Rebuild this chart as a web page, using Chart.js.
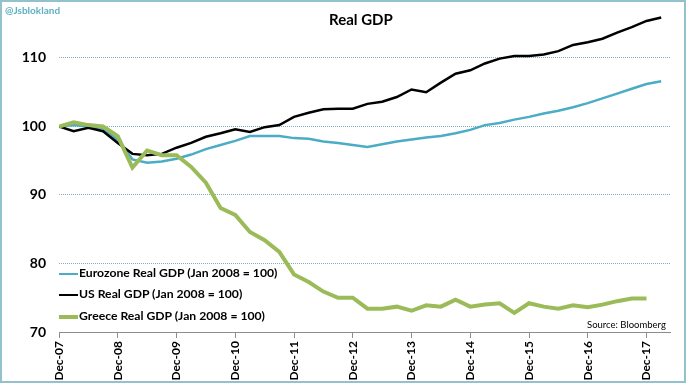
<!DOCTYPE html>
<html><head><meta charset="utf-8">
<script src="https://cdn.jsdelivr.net/npm/chart.js@4/dist/chart.umd.min.js"></script>
<style>
html,body{margin:0;padding:0;background:#fff;}
#wrap{position:relative;width:686px;height:383px;overflow:hidden;background:#fff;}
#frame{position:absolute;left:0;top:0;width:686px;height:383px;box-sizing:border-box;border:2px solid #93c2cd;pointer-events:none;}
canvas{position:absolute;left:0;top:0;}
.t{position:absolute;font-family:Lato,"Open Sans",sans-serif;white-space:nowrap;color:#000;line-height:1;}
.lg{position:absolute;left:59px;font-family:Lato,sans-serif;font-weight:bold;font-size:12.2px;white-space:nowrap;line-height:14px;height:14px;}
.lg span.s{display:inline-block;width:19px;vertical-align:middle;margin-right:1px;}
</style>
</head><body>
<div id="wrap">
<canvas id="c" width="686" height="383"></canvas>
<div class="t" style="left:5px;top:5px;font-size:10px;font-weight:bold;color:#5eb0c4;">@Jsblokland</div>
<div class="t" style="left:329px;top:12px;font-size:15px;font-weight:bold;">Real GDP</div>
<div class="t" style="left:587px;top:320px;font-size:9.5px;">Source: Bloomberg</div>
<div id="legend"></div>
<div id="frame"></div>
</div>
<script>
// quarterly observations, index 0 = Dec-07
const tickLabels = ["Dec-07","Dec-08","Dec-09","Dec-10","Dec-11","Dec-12","Dec-13","Dec-14","Dec-15","Dec-16","Dec-17"];
const seriesNames = ["Eurozone Real GDP (Jan 2008 = 100)","US Real GDP (Jan 2008 = 100)","Greece Real GDP (Jan 2008 = 100)"];
const eurozone = [100,100.2,100.0,99.7,98.0,95.2,94.7,94.9,95.3,95.9,96.7,97.3,97.9,98.6,98.6,98.6,98.3,98.2,97.8,97.6,97.3,97.0,97.4,97.8,98.1,98.4,98.6,99.0,99.5,100.2,100.5,101.0,101.4,101.9,102.3,102.8,103.4,104.1,104.8,105.5,106.2,106.6];
const us = [100,99.3,99.8,99.3,97.6,96.0,95.8,96.0,96.9,97.6,98.5,99.0,99.6,99.2,99.9,100.2,101.4,102.0,102.5,102.6,102.6,103.3,103.6,104.3,105.4,105.0,106.4,107.7,108.2,109.2,109.9,110.3,110.3,110.5,111.0,111.9,112.3,112.8,113.7,114.5,115.4,115.9];
const greece = [100,100.6,100.2,100.0,98.6,94.0,96.5,95.8,95.8,94.1,91.8,88.1,87.1,84.6,83.4,81.7,78.4,77.3,75.9,75.0,75.0,73.4,73.4,73.7,73.1,73.9,73.7,74.7,73.7,74.0,74.2,72.8,74.2,73.7,73.4,73.9,73.6,74.0,74.5,74.9,74.9];
const yTicks = [70,80,90,100,110];

const colors = ["#4bacc6","#000000","#9bbb59"];
const widths = [2.5,2.5,4];

const toPts = arr => arr.map((v,i)=>({x:i,y:v}));

// legend (HTML)
const legendTops = [266,287,309];
const lg = document.getElementById('legend');
seriesNames.forEach((n,i)=>{
  const d = document.createElement('div');
  d.className='lg'; d.style.top = legendTops[i]+'px';
  d.innerHTML = '<span class="s" style="height:'+(i==2?3.5:2.5)+'px;background:'+colors[i]+'"></span>'+n;
  lg.appendChild(d);
});

new Chart(document.getElementById('c'),{
  type:'line',
  data:{datasets:[
    {label:seriesNames[2],data:toPts(greece),borderColor:colors[2],borderWidth:widths[2],pointRadius:0,tension:0,fill:false},
    {label:seriesNames[1],data:toPts(us),borderColor:colors[1],borderWidth:widths[1],pointRadius:0,tension:0,fill:false},
    {label:seriesNames[0],data:toPts(eurozone),borderColor:colors[0],borderWidth:widths[0],pointRadius:0,tension:0,fill:false}
  ]},
  options:{
    responsive:false,animation:false,devicePixelRatio:1,
    layout:{padding:{top:10,right:16,left:0,bottom:0}},
    plugins:{legend:{display:false},tooltip:{enabled:false},title:{display:false}},
    scales:{
      x:{type:'linear',min:0,max:41.6,
        afterFit:s=>{s.height=51;s.paddingLeft=0;s.paddingRight=0;},
        afterBuildTicks:s=>{s.ticks=tickLabels.map((l,i)=>({value:i*4}));},
        ticks:{autoSkip:false,maxRotation:90,minRotation:90,padding:3,color:'#000',
          font:{family:'Lato',weight:'bold',size:12},
          callback:(v)=>tickLabels[Math.round(v/4)]},
        grid:{drawOnChartArea:false,drawTicks:true,tickLength:6,color:'#8c8c8c'},
        border:{display:true,color:'#8c8c8c',width:1}
      },
      y:{min:70,max:117,
        afterFit:s=>{s.width=59;s.paddingTop=0;s.paddingBottom=0;},
        afterBuildTicks:s=>{s.ticks=yTicks.map(v=>({value:v}));},
        ticks:{padding:13,color:'#000',font:{family:'Lato',weight:'bold',size:14}},
        grid:{drawTicks:false,color:c=>c.tick&&c.tick.value===70?'rgba(0,0,0,0)':'#7fb0c0',lineWidth:1},
        border:{display:false,dash:[1,1]}
      }
    }
  }
});
</script>
</body></html>
